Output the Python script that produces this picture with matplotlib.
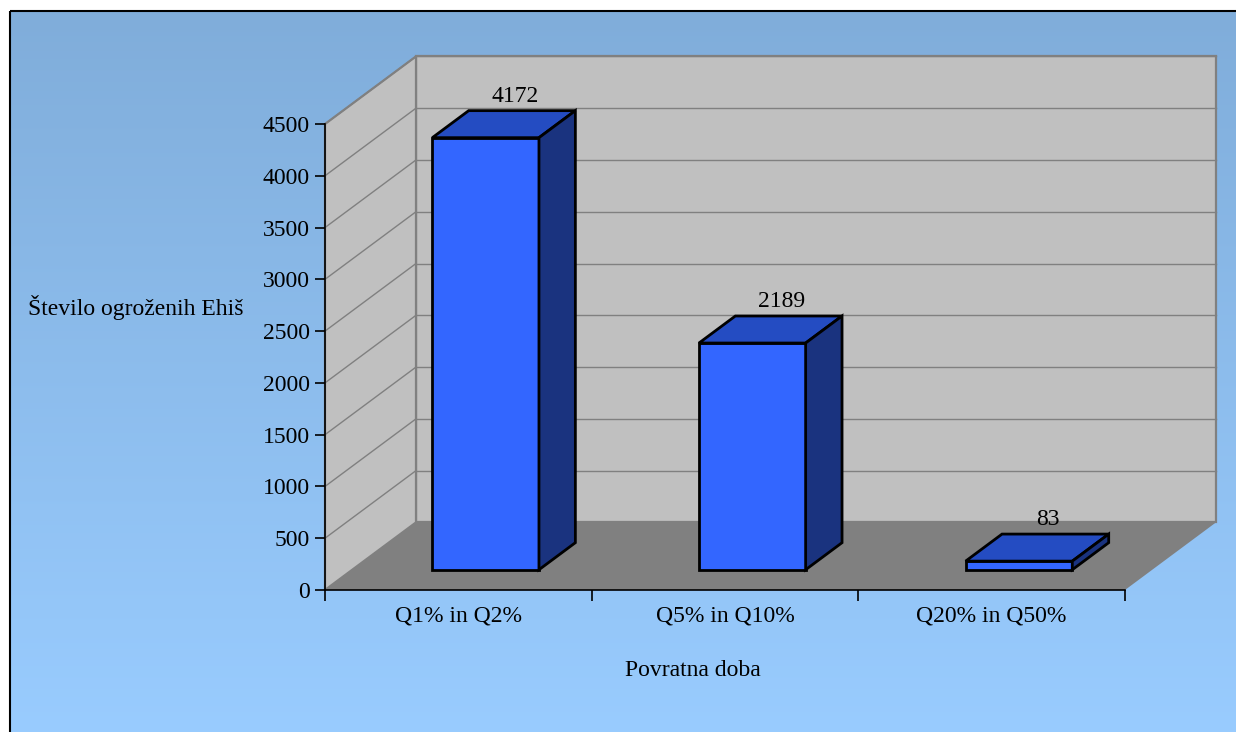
import matplotlib
matplotlib.use('Agg')
import matplotlib.pyplot as plt
import numpy as np
from matplotlib.patches import Polygon, Rectangle

# data
categories = ['Q1% in Q2%', 'Q5% in Q10%', 'Q20% in Q50%']
values = [4172, 2189, 83]
yticks = list(range(0, 5000, 500))

plt.rcParams['font.family'] = ['Liberation Serif', 'DejaVu Serif']
FS = 17

W, H = 1236, 732
fig = plt.figure(figsize=(W / 100, H / 100), dpi=100)
fig.patch.set_facecolor('white')

# background frame with vertical gradient
bg = fig.add_axes([0, 0, 1, 1], zorder=0)
bg.set_xlim(0, W)
bg.set_ylim(H, 0)
bg.axis('off')
top = np.array([0x80, 0xAD, 0xDA]) / 255
bot = np.array([0x99, 0xCC, 0xFF]) / 255
t = np.linspace(0, 1, 256)[:, None, None]
grad = top + (bot - top) * t
bg.imshow(grad, extent=(10, W + 5, H + 5, 11), aspect='auto')
bg.add_patch(Rectangle((10, 11), W, H, fill=False, ec='black', lw=1.5))

# main axes: front plane of the 3D chart
ax = fig.add_axes([325 / W, 1 - 590 / H, 800 / W, 466 / H], zorder=1)
ax.set_xlim(0, len(categories))
ax.set_ylim(0, 4500)
ax.patch.set_visible(False)
for s in ['top', 'right']:
    ax.spines[s].set_visible(False)
ax.spines['left'].set_linewidth(1.2)
ax.spines['bottom'].set_linewidth(1.2)
ax.spines['left'].set_zorder(10)
ax.spines['bottom'].set_zorder(10)
ax.set_yticks(yticks)
ax.tick_params(axis='y', direction='out', length=7, width=1.2, pad=4, labelsize=FS)
ax.set_xticks(range(len(categories) + 1))
ax.set_xticklabels([])
ax.tick_params(axis='x', which='major', direction='out', length=8, width=1.2)
ax.set_xticks([i + 0.5 for i in range(len(categories))], minor=True)
ax.set_xticklabels(categories, minor=True)
ax.tick_params(axis='x', which='minor', length=0, pad=11, labelsize=FS)

# depth of the 3D box in pixels
DX, DY = 91, 67.6
p0 = ax.transData.transform((0, 0))
p1 = ax.transData.transform((1, 1))
kx = DX / (p1[0] - p0[0])
kv = DY / (p1[1] - p0[1])


def P(x, v, d):
    return (x + d * kx, v + d * kv)


def poly(pts, fc, ec, lw, z):
    ax.add_patch(Polygon(pts, closed=True, fc=fc, ec=ec, lw=lw, zorder=z,
                         clip_on=False, joinstyle='miter'))


n = len(categories)
ymax = 4500
wall = '#C0C0C0'
# back wall, side wall, floor
poly([P(0, 0, 1), P(n, 0, 1), P(n, ymax, 1), P(0, ymax, 1)], wall, '#808080', 1.6, 1)
poly([P(0, 0, 0), P(0, 0, 1), P(0, ymax, 1), P(0, ymax, 0)], wall, '#808080', 1.6, 1)
poly([P(0, 0, 0), P(n, 0, 0), P(n, 0, 1), P(0, 0, 1)], '#808080', 'none', 0, 2)

# gridlines on walls
for v in yticks[1:]:
    xs, ys = zip(P(0, v, 1), P(n, v, 1))
    ax.plot(xs, ys, color='#808080', lw=1, zorder=1.5, clip_on=False)
    xs, ys = zip(P(0, v, 0), P(0, v, 1))
    ax.plot(xs, ys, color='#808080', lw=1, zorder=1.5, clip_on=False)

# bars
bw = 0.2
d0, d1 = 0.3, 0.7
for i, val in enumerate(values):
    x0, x1 = i + 0.5 - bw, i + 0.5 + bw
    poly([P(x0, 0, d0), P(x1, 0, d0), P(x1, val, d0), P(x0, val, d0)],
         '#3366FF', 'black', 2, 5)
    poly([P(x0, val, d0), P(x1, val, d0), P(x1, val, d1), P(x0, val, d1)],
         '#244CC2', 'black', 2, 5)
    poly([P(x1, 0, d0), P(x1, 0, d1), P(x1, val, d1), P(x1, val, d0)],
         '#1A337F', 'black', 2, 5)
    lx, ly = P(i + 0.5, val, 0.62)
    ax.annotate(str(val), (lx, ly), xytext=(0, 20), textcoords='offset pixels',
                ha='center', va='center', fontsize=FS, zorder=6,
                annotation_clip=False)

fig.text(136 / W, 1 - 307 / H, 'Število ogroženih Ehiš', ha='center', va='center',
         fontsize=FS, zorder=3)
fig.text(693 / W, 1 - 671 / H, 'Povratna doba', ha='center', va='center',
         fontsize=FS, zorder=3)

fig.savefig('out.png', dpi=100)
